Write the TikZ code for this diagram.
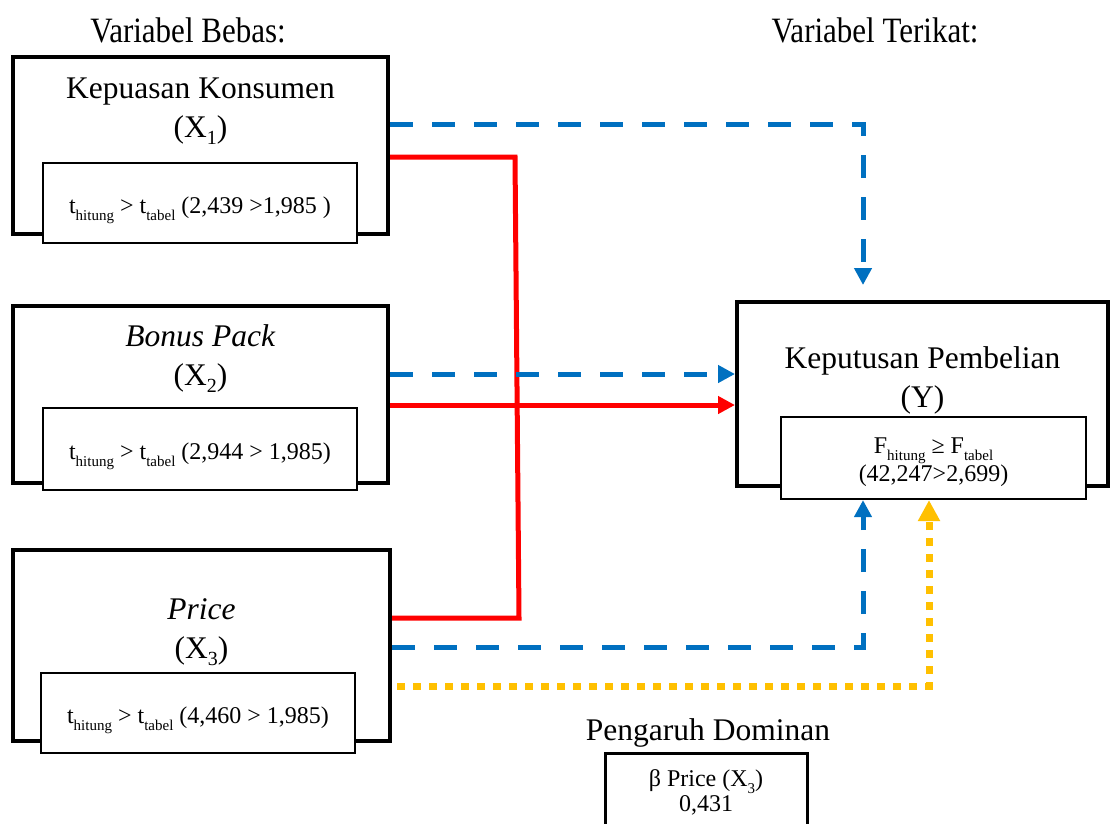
\documentclass[tikz,border=0pt]{standalone}
\usepackage{fontspec}
\setmainfont{Liberation Serif}
\usetikzlibrary{arrows.meta}
\definecolor{cblue}{HTML}{0070C0}
\definecolor{cred}{HTML}{FF0000}
\definecolor{cyel}{HTML}{FFC000}
\newcommand\subA[1]{\raisebox{-0.22em}{\fontsize{20}{20}\selectfont #1}}
\newcommand\subB[1]{\raisebox{-0.3em}{\fontsize{15}{15}\selectfont #1}}
\tikzset{
  outerbox/.style={draw, line width=4pt, fill=white},
  innerbox/.style={draw, line width=2.2pt, fill=white, inner sep=0pt},
  smalltext/.style={align=center, inner sep=0pt, font=\fontsize{24}{25}\selectfont},
  bigtext/.style={align=center, inner sep=0pt, font=\fontsize{31.5}{39}\selectfont},
  headtext/.style={inner sep=0pt, font=\fontsize{31}{36}\selectfont},
  bluedash/.style={draw=cblue, line width=5pt, dash pattern=on 23pt off 19pt},
  redline/.style={draw=cred, line width=5pt},
  yeldot/.style={draw=cyel, line width=7pt, dash pattern=on 8pt off 8pt},
  bluetip/.style={-{Triangle[length=17pt,width=17pt]}},
  yeltip/.style={-{Triangle[length=21pt,width=21pt]}}
}
\begin{document}
\begin{tikzpicture}[x=1pt,y=-1pt]
\useasboundingbox (0,0) rectangle (1115,823);
% headers
\node[headtext] (hb) at (188,30) {\scalebox{1}[1.15]{Variabel Bebas:}};
\node[headtext] (ht) at (875,30) {\scalebox{1}[1.15]{Variabel Terikat:}};
% X1
\node[outerbox, minimum width=375pt, minimum height=177pt] (x1) at (200.5,145.5) {};
\node[bigtext] (x1l) at (200.5,111) {Kepuasan Konsumen\\(X\subA{1})};
\node[innerbox, minimum width=314pt, minimum height=80pt] (x1t) at (200,203) {};
\node[smalltext] (x1s) at (200,210) {t\subB{hitung} > t\subB{tabel} (2,439 >1,985 )};
% X2
\node[outerbox, minimum width=375pt, minimum height=177pt] (x2) at (200.5,394.5) {};
\node[bigtext] (x2l) at (200.5,359) {\textit{Bonus Pack}\\(X\subA{2})};
\node[innerbox, minimum width=314pt, minimum height=82pt] (x2t) at (200,449) {};
\node[smalltext] (x2s) at (200,456) {t\subB{hitung} > t\subB{tabel} (2,944 > 1,985)};
% X3
\node[outerbox, minimum width=377pt, minimum height=191pt] (x3) at (201.5,645.5) {};
\node[bigtext] (x3l) at (201.5,632) {\textit{Price}\\(X\subA{3})};
\node[innerbox, minimum width=314pt, minimum height=80pt] (x3t) at (198,713) {};
\node[smalltext] (x3s) at (198,720) {t\subB{hitung} > t\subB{tabel} (4,460 > 1,985)};
% Y
\node[outerbox, minimum width=371pt, minimum height=184pt] (y) at (922.5,394) {};
\node[bigtext] (yl) at (922.5,380) {Keputusan Pembelian\\(Y)};
\node[innerbox, minimum width=305pt, minimum height=82pt] (yt) at (933.5,458) {};
\node[smalltext] (ys) at (933.5,462) {F\subB{hitung} ≥ F\subB{tabel}\\(42,247>2,699)};
% Dominant
\node[bigtext] (pd) at (708,733) {Pengaruh Dominan};
\node[draw, line width=3pt, minimum width=202pt, minimum height=100pt] (dom) at (706,803) {};
\node[smalltext] (domt) at (706,792) {β Price (X\subB{3})\\0,431};
% connectors
\coordinate (r1) at (515,157);
\coordinate (r2) at (519,618);
\draw[redline, line join=miter] (x1.east |- 0,157) -- (r1) -- (r2) -- (x3.east |- 0,618);
\draw[bluedash, bluetip, shorten >=15pt] (x1.east |- 0,124) -| (y.north -| 863,0);
\draw[bluedash, bluetip] (x2.east |- 0,374) -- (y.west |- 0,374);
\draw[redline, bluetip] (x2.east |- 0,405) -- (y.west |- 0,405);
\draw[bluedash, bluetip] (x3.east |- 0,647) -| (yt.south -| 863,0);
\draw[yeldot, yeltip, shorten <=5pt] (x3.east |- 0,686) -| (yt.south -| 929,0);
\end{tikzpicture}
\end{document}
